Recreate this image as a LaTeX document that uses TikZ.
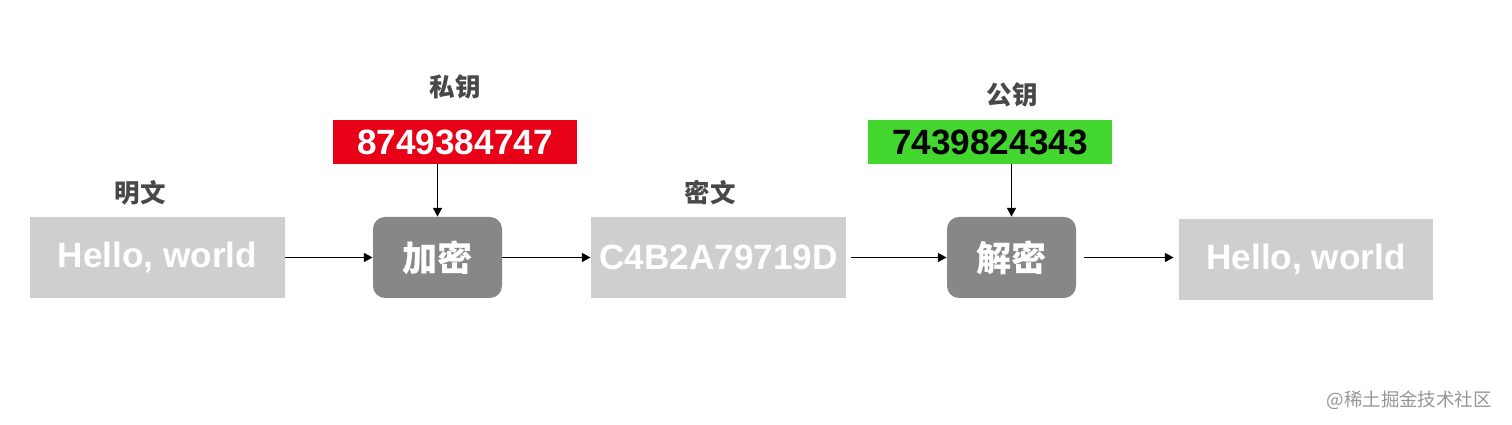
\documentclass[tikz,border=0pt]{standalone}
\usepackage{fontspec}
\setmainfont{Liberation Sans}
\newfontfamily\cjk{Noto Sans CJK SC}
\usetikzlibrary{arrows.meta, positioning}
\definecolor{myboxgray}{RGB}{207, 207, 207}
\definecolor{mydarkgray}{RGB}{135, 135, 135}
\definecolor{mylabelgray}{RGB}{72, 72, 72}
\definecolor{mykeyred}{RGB}{232, 0, 24}
\definecolor{mykeygreen}{RGB}{66, 214, 46}
\definecolor{mymarkgray}{RGB}{150, 150, 150}

\begin{document}
\begin{tikzpicture}[
    textbox/.style={fill=myboxgray, text=white, minimum width=5.1cm, minimum height=1.62cm,
        font=\fontsize{20}{24}\selectfont\bfseries},
    opbox/.style={fill=mydarkgray, text=white, rounded corners=0.24cm, minimum width=2.58cm,
        minimum height=1.62cm, font=\fontsize{20}{24}\selectfont\cjk\bfseries},
    keybox/.style={minimum width=4.88cm, minimum height=0.88cm, inner sep=0pt,
        font=\fontsize{20}{24}\selectfont\bfseries},
    caption/.style={text=mylabelgray, font=\fontsize{14.5}{17}\selectfont\cjk\bfseries},
    flow/.style={-{Triangle[length=5pt, width=5pt]}, line width=1.1pt}
]
\useasboundingbox (0,0) rectangle (30.24,8.5);
% Boxes
\node[textbox] (plain) at (3.15,3.35) {Hello, world};
\node[opbox] (enc) at (8.75,3.35) {加密};
\node[textbox] (cipher) at (14.37,3.35) {C4B2A79719D};
\node[opbox] (dec) at (20.23,3.35) {解密};
\node[textbox, minimum width=5.08cm] (result) at (26.12,3.31) {Hello, world};
% Keys
\node[keybox, fill=mykeyred, text=white] (privkey) at (9.1,5.66) {8749384747};
\node[keybox, fill=mykeygreen, text=black] (pubkey) at (19.8,5.66) {7439824343};
% Labels
\node[caption] (plainlbl) at (2.8,4.64) {明文};
\node[caption] (cipherlbl) at (14.2,4.64) {密文};
\node[caption] (privlbl) at (9.1,6.76) {私钥};
\node[caption] (publbl) at (20.24,6.6) {公钥};
% Arrows
\draw[flow] (plain) -- (enc);
\draw[flow] (enc) -- (cipher);
\draw[flow] (cipher.east) ++(0.1,0) coordinate (cipherout) -- (dec);
\draw[flow] (dec.east) ++(0.15,0) coordinate (decout) -- ([xshift=-0.1cm]decout -| result.west);
\draw[flow] (privkey.south -| enc) -- (enc.north);
\draw[flow] (pubkey.south -| dec) -- (dec.north);
% Watermark
\node[anchor=east, text=mymarkgray, font=\fontsize{10.5}{12}\selectfont\cjk] (mark) at (29.96,0.5) {@稀土掘金技术社区};
\end{tikzpicture}
\end{document}
